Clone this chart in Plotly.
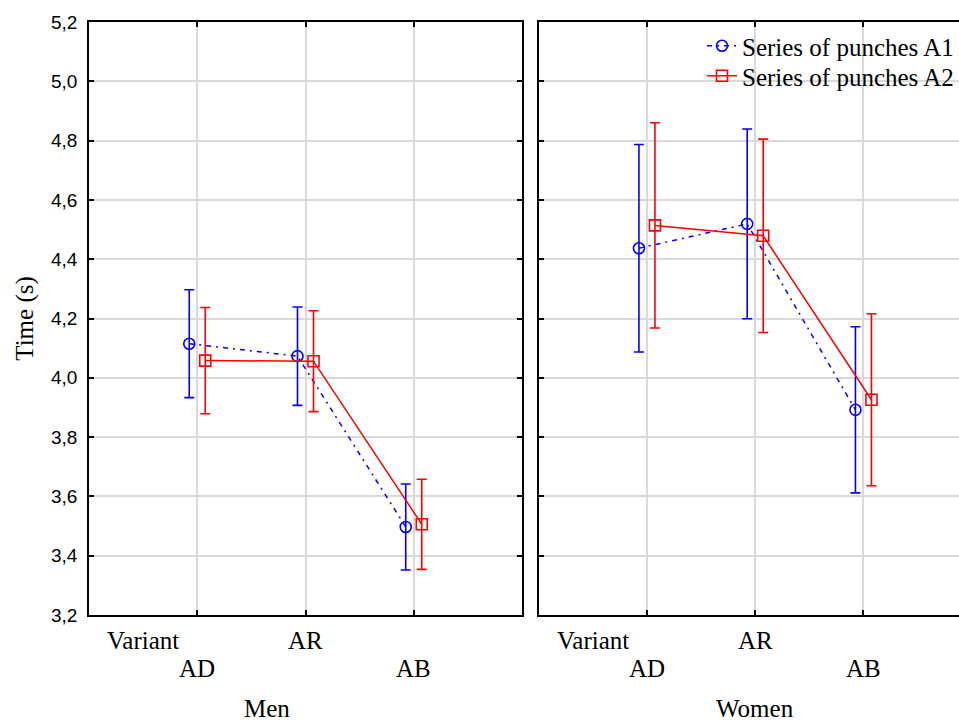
import plotly.graph_objects as go

# ---- data ----
categories = ["AD", "AR", "AB"]
men_a1_mean = [4.115, 4.073, 3.497]
men_a1_err = [0.182, 0.166, 0.145]
men_a2_mean = [4.058, 4.056, 3.506]
men_a2_err = [0.179, 0.170, 0.152]
women_a1_mean = [4.437, 4.519, 3.892]
women_a1_err = [0.350, 0.320, 0.280]
women_a2_mean = [4.514, 4.479, 3.926]
women_a2_err = [0.346, 0.326, 0.290]
y_ticks = [3.2, 3.4, 3.6, 3.8, 4.0, 4.2, 4.4, 4.6, 4.8, 5.0, 5.2]
y_ticklabels = ["3,2", "3,4", "3,6", "3,8", "4,0", "4,2", "4,4", "4,6", "4,8", "5,0", "5,2"]
series_names = ["Series of punches A1", "Series of punches A2"]
panel_names = ["Men", "Women"]
factor_name = "Variant"

# ---- styling ----
BLUE = "#0000FF"
RED = "#FF0000"
GRID = "#D9D9D9"
SERIF = "Liberation Serif, Times New Roman, serif"
SANS = "Liberation Sans, Arial, sans-serif"
OFFSET = 0.074
W, H = 959, 724
ML, MR, MT, MB = 89, 0, 22, 109
plot_w = W - ML - MR
plot_h = H - MT - MB
unit_px = 433 / 4.0
left_dom = [0, 433 / plot_w]
right_start_px = 538.7 - ML
right_dom = [right_start_px / plot_w, 1]
right_range = (plot_w - right_start_px) / unit_px
FS = 25

pos = [i + 1 for i in range(len(categories))]

def py(pix):
    return (MT + plot_h - pix) / plot_h

def px(pix):
    return (pix - ML) / plot_w

fig = go.Figure()

def add_series(xa, ya, mean, err, color, dash, symbol, name, show, legend):
    fig.add_trace(go.Scatter(
        x=[p + (-OFFSET if symbol == "circle-open" else OFFSET) for p in pos],
        y=mean,
        error_y=dict(type="data", array=err, visible=True, color=color, thickness=1.6, width=5),
        mode="lines+markers",
        line=dict(color=color, width=1.5, dash=dash),
        marker=dict(symbol=symbol, size=11, color=color, line=dict(color=color, width=1.6)),
        name=name, showlegend=show, legend=legend,
        xaxis=xa, yaxis=ya,
    ))

DASHDOT = "5px,5px,2px,5px"
add_series("x", "y", men_a1_mean, men_a1_err, BLUE, DASHDOT, "circle-open", series_names[0], False, "legend")
add_series("x", "y", men_a2_mean, men_a2_err, RED, "solid", "square-open", series_names[1], False, "legend2")
add_series("x2", "y2", women_a1_mean, women_a1_err, BLUE, DASHDOT, "circle-open", series_names[0], True, "legend")
add_series("x2", "y2", women_a2_mean, women_a2_err, RED, "solid", "square-open", series_names[1], True, "legend2")

xcommon = dict(tickvals=pos, showticklabels=False, ticks="inside", ticklen=5, tickcolor="black",
               tickwidth=1.5, showline=True, linecolor="black", linewidth=1.8, mirror="ticks",
               showgrid=True, gridcolor=GRID, gridwidth=1.5, zeroline=False)
ycommon = dict(range=[3.2, 5.2], tickvals=y_ticks, ticktext=y_ticklabels, ticks="inside", ticklen=5,
               tickcolor="black", tickwidth=1.5, showline=True, linecolor="black", linewidth=1.8,
               showgrid=True, gridcolor=GRID, gridwidth=1.5, zeroline=False)

leg_common = dict(x=px(702), xanchor="left", yanchor="middle",
                  bgcolor="rgba(0,0,0,0)", font=dict(family=SERIF, size=FS, color="black"),
                  borderwidth=0, tracegroupgap=0)

fig.update_layout(
    width=W, height=H,
    margin=dict(l=ML, r=MR, t=MT, b=MB),
    paper_bgcolor="white", plot_bgcolor="white",
    xaxis=dict(domain=left_dom, range=[0, 4], anchor="y", **xcommon),
    xaxis2=dict(domain=right_dom, range=[0, right_range], anchor="y2", **xcommon),
    yaxis=dict(anchor="x", mirror="ticks", showticklabels=True,
               tickfont=dict(family=SANS, size=19, color="black"), ticklabelstandoff=6,
               title=dict(text="Time (s)", font=dict(family=SERIF, size=FS, color="black"), standoff=10),
               **ycommon),
    yaxis2=dict(anchor="x2", mirror=False, showticklabels=False, **ycommon),
    legend=dict(y=py(46), **leg_common),
    legend2=dict(y=py(76), **leg_common),
    showlegend=True,
)

ann_font = dict(family=SERIF, size=FS, color="black")
for xa, pname, ptitle_x in [("x", panel_names[0], 1.645), ("x2", panel_names[1], 2.0)]:
    fig.add_annotation(x=0.5, y=py(640), xref=xa, yref="paper", text=factor_name,
                       showarrow=False, font=ann_font, xanchor="center", yanchor="middle")
    for i, c in enumerate(categories):
        ypix = 640 if i % 2 == 1 else 668
        fig.add_annotation(x=pos[i], y=py(ypix), xref=xa, yref="paper", text=c,
                           showarrow=False, font=ann_font, xanchor="center", yanchor="middle")
    fig.add_annotation(x=ptitle_x, y=py(723), xref=xa, yref="paper", text=pname,
                       showarrow=False, font=ann_font, xanchor="center", yanchor="bottom",
                       borderpad=0)

fig.write_html("out.html", config={"displayModeBar": False},
               post_script="document.body.style.margin='0';document.body.style.overflow='hidden';")
